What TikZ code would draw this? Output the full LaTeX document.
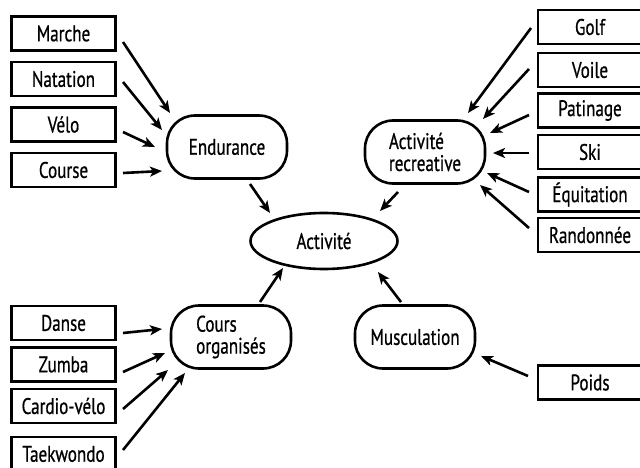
\documentclass[tikz,border=0pt]{standalone}
\usepackage{fontspec}
\setmainfont{PT Sans}[FakeStretch=0.76,FakeBold=0.7]
\usetikzlibrary{calc,arrows.meta,shapes.geometric}
\tikzset{
  box/.style={draw,line width=2.8pt,minimum width=104pt,minimum height=34pt,inner sep=0pt},
  pill/.style={draw,line width=2.6pt,rounded corners=28pt,minimum width=120pt,minimum height=63pt,align=left,inner sep=0pt},
  hub/.style={draw,ellipse,line width=2.6pt,minimum width=147pt,minimum height=56pt,inner sep=0pt},
  ar/.style={-{Stealth[length=12pt,width=10pt,inset=3pt]},line width=2.6pt}
}
\begin{document}
\begin{tikzpicture}[x=1pt,y=-1pt,every node/.style={font=\fontsize{22.5}{22}\selectfont}]
\useasboundingbox (0,0) rectangle (640,468);
% centre
\node[hub] (act) at (324,241) {Activité};
\node[pill] (endu) at (227,147) {Endurance};
\node[pill] (recr) at (425,152) {Activité\\recreative};
\node[pill] (cours) at (231,337) {Cours\\organisés};
\node[pill] (musc) at (415,337) {Musculation};
% boxes
\foreach \nm/\txt/\y in {marche/Marche/33.5,natation/Natation/79,velo/Vélo/124.5,course/Course/170,
  danse/Danse/323,zumba/Zumba/364.5,cardio/Cardio-vélo/406,taek/Taekwondo/454}
  \node[box] (\nm) at (63.5,\y) {\txt};
\foreach \nm/\txt/\y in {golf/Golf/27,voile/Voile/70,patin/Patinage/110.5,ski/Ski/152,
  equi/Équitation/194.5,rando/Randonnée/235,poids/Poids/382.5}
  \node[box] (\nm) at (590,\y) {\txt};
% arrows
\foreach \s/\sx/\sy/\t/\tx/\ty in {marche/59.5/8.5/endu/-57/-34,natation/59.5/3/endu/-65/-17,
  velo/59.5/7.5/endu/-72/0,course/59.5/3/endu/-65/24,
  golf/-59/1/recr/43/-39,voile/-61/-1/recr/58/-33,patin/-61/4.5/recr/65/-19,
  ski/-61/1/recr/68/1,equi/-61/-2.5/recr/62/21,rando/-61/-7/recr/55/33,
  danse/59.5/10/cours/-69/-8,zumba/59.5/7.5/cours/-66/16,cardio/59.5/3/cours/-63/33,
  taek/59.5/-4/cours/-46/36,poids/-62/-6.5/musc/66/19,
  endu/23/37/act/-54/-28,recr/-27/40/act/56/-30,cours/29/-35/act/-41/27,musc/-14/-35/act/54/31}
  \draw[ar] ($(\s)+(\sx,\sy)$) -- ($(\t)+(\tx,\ty)$);
\end{tikzpicture}
\end{document}
